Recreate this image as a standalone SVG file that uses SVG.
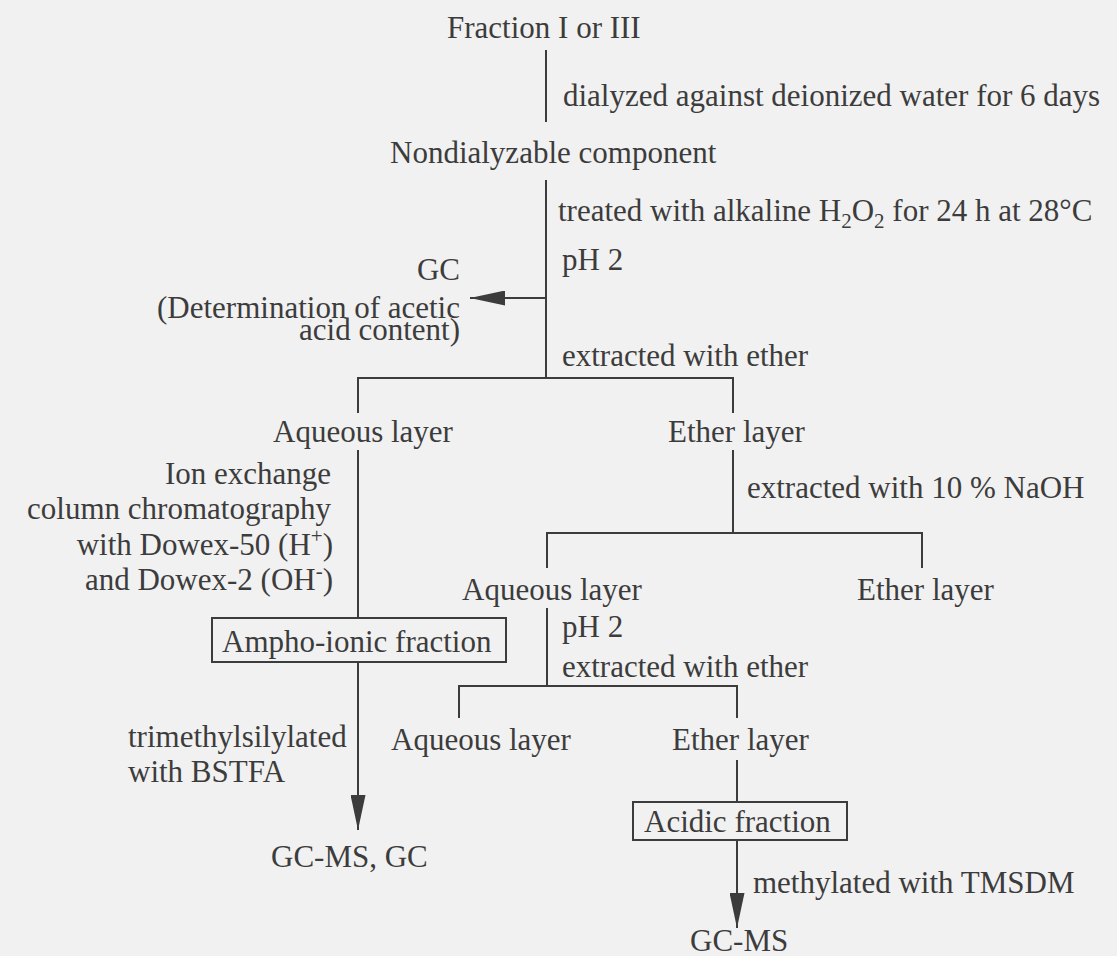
<svg xmlns="http://www.w3.org/2000/svg" width="1117" height="956" viewBox="0 0 1117 956">
<defs>
<style>
text{font-family:"Liberation Serif","Times New Roman",serif;font-size:31px;fill:#3c3c3c}
.e{text-anchor:end}
.ln{stroke:#3c3c3c;stroke-width:2;fill:none}
.box{stroke:#3c3c3c;stroke-width:2;fill:none}
.sub{font-size:21px}
</style>
<marker id="ah" viewBox="0 0 35 15" refX="35" refY="7.5" markerWidth="35" markerHeight="15" markerUnits="userSpaceOnUse" orient="auto">
<path d="M0,0 L35,7.5 L0,15 Z" fill="#3c3c3c"/>
</marker>
</defs>
<rect width="1117" height="956" fill="#f1f1f1"/>
<g id="connectors">
<path class="ln" d="M546,50 V122"/>
<path class="ln" d="M546,180 V378"/>
<path class="ln" d="M546,298 H470" marker-end="url(#ah)"/>
<path class="ln" d="M358,413 V378 H733 V413"/>
<path class="ln" d="M358,450 V618"/>
<path class="ln" d="M733,450 V533"/>
<path class="ln" d="M547,568 V533 H922 V568"/>
<path class="ln" d="M547,608 V686"/>
<path class="ln" d="M459,718 V686 H737 V718"/>
<path class="ln" d="M737,760 V802"/>
<path class="ln" d="M358,662 V830" marker-end="url(#ah)"/>
<path class="ln" d="M737,840 V928" marker-end="url(#ah)"/>
</g>
<g id="n-fraction"><text x="447" y="38">Fraction I or III</text></g>
<g id="l-dialyzed"><text x="563" y="106">dialyzed against deionized water for 6 days</text></g>
<g id="n-nondialyzable"><text x="390" y="163">Nondialyzable component</text></g>
<g id="l-treated"><text x="558" y="221">treated with alkaline H<tspan class="sub" dy="7">2</tspan><tspan dy="-7">O</tspan><tspan class="sub" dy="7">2</tspan><tspan dy="-7"> for 24 h at 28°C</tspan></text></g>
<g id="l-ph2a"><text x="562" y="270">pH 2</text></g>
<g id="n-gc"><text class="e" x="460" y="280">GC</text><text class="e" x="460" y="318">(Determination of acetic</text><text class="e" x="460" y="340">acid content)</text></g>
<g id="l-ether1"><text x="562" y="366">extracted with ether</text></g>
<g id="n-aq1"><text x="273" y="442">Aqueous layer</text></g>
<g id="n-et1"><text x="668" y="442">Ether layer</text></g>
<g id="l-ion"><text class="e" x="331" y="484">Ion exchange</text><text class="e" x="331" y="519">column chromatography</text><text class="e" x="333" y="555">with Dowex-50 (H<tspan class="sub" dy="-12">+</tspan><tspan dy="12">)</tspan></text><text class="e" x="333" y="590">and Dowex-2 (OH<tspan class="sub" dy="-12">-</tspan><tspan dy="12">)</tspan></text></g>
<g id="l-naoh"><text x="747" y="498">extracted with 10 % NaOH</text></g>
<g id="n-aq2"><text x="462" y="600">Aqueous layer</text></g>
<g id="n-et2"><text x="857" y="600">Ether layer</text></g>
<g id="n-ampho"><rect class="box" x="212" y="618" width="294" height="44"/><text x="222" y="652">Ampho-ionic fraction</text></g>
<g id="l-ph2b"><text x="562" y="637">pH 2</text></g>
<g id="l-ether2"><text x="562" y="677">extracted with ether</text></g>
<g id="n-aq3"><text x="391" y="750">Aqueous layer</text></g>
<g id="n-et3"><text x="672" y="750">Ether layer</text></g>
<g id="l-tms"><text x="128" y="747">trimethylsilylated</text><text x="128" y="782">with BSTFA</text></g>
<g id="n-acidic"><rect class="box" x="633" y="802" width="214" height="38"/><text x="644" y="832">Acidic fraction</text></g>
<g id="n-gcms-gc"><text x="271" y="867">GC-MS, GC</text></g>
<g id="l-tmsdm"><text x="753" y="893">methylated with TMSDM</text></g>
<g id="n-gcms"><text x="690" y="951">GC-MS</text></g>
</svg>
